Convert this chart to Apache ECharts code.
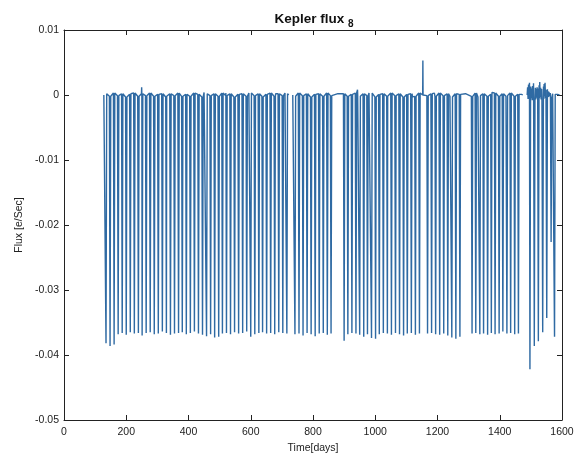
<!DOCTYPE html>
<html>
<head>
<meta charset="utf-8">
<script src="https://cdn.jsdelivr.net/npm/echarts@6/dist/echarts.min.js"></script>
<style>
  html, body { margin: 0; padding: 0; background: #fff; }
  #chart { width: 579px; height: 459px; }
</style>
</head>
<body>
<div id="chart"></div>
<script>
// axis ranges
var xTicks = [0, 200, 400, 600, 800, 1000, 1200, 1400, 1600]
var yTicks = [-0.05, -0.04, -0.03, -0.02, -0.01, 0, 0.01]

// pieces of data that are drawn as one connected line
var segments = [[128, 722], [735, 1474], [1488, 1592]]

// transit dips: time [days], lowest flux, flux level just around the dip
var dipTimes = [
  135, 148, 161, 174, 187, 200, 213, 226, 239, 251, 264, 277, 290, 303, 316, 329,
  342, 355, 368, 380, 393, 406, 419, 432, 445, 458, 471, 484, 497, 509, 522, 535,
  548, 561, 574, 587, 600, 613, 626, 638, 651, 664, 677, 690, 703, 716,
  742, 755, 768, 781, 794, 807, 820, 833, 846, 858,
  900, 912, 925, 938, 950, 963, 975, 988, 1001, 1013, 1026, 1039, 1052, 1065, 1078,
  1091, 1103, 1116, 1129, 1142,
  1168, 1181, 1194, 1207, 1220, 1233, 1246, 1259, 1272,
  1311, 1323, 1336, 1348, 1361, 1373, 1385, 1398, 1410, 1423, 1435, 1448, 1460,
  1497, 1511, 1524, 1538, 1551, 1565, 1576
]
var dipDepths = [
  -0.0382, -0.0386, -0.0384, -0.0368, -0.0366, -0.0369, -0.0365, -0.0367, -0.0366, -0.0370,
  -0.0366, -0.0365, -0.0368, -0.0367, -0.0364, -0.0366, -0.0369, -0.0367, -0.0366, -0.0365,
  -0.0368, -0.0366, -0.0364, -0.0367, -0.0369, -0.0371, -0.0368, -0.0373, -0.0372, -0.0367,
  -0.0366, -0.0368, -0.0365, -0.0367, -0.0366, -0.0364, -0.0372, -0.0368, -0.0366, -0.0365,
  -0.0367, -0.0366, -0.0368, -0.0365, -0.0366, -0.0367,
  -0.0368, -0.0367, -0.0370, -0.0366, -0.0368, -0.0371, -0.0367, -0.0366, -0.0369, -0.0367,
  -0.0378, -0.0368, -0.0366, -0.0367, -0.0369, -0.0372, -0.0368, -0.0374, -0.0375, -0.0368,
  -0.0366, -0.0367, -0.0369, -0.0366, -0.0368, -0.0370, -0.0367, -0.0366, -0.0369, -0.0367,
  -0.0367, -0.0366, -0.0368, -0.0369, -0.0367, -0.0370, -0.0373, -0.0375, -0.0372,
  -0.0367, -0.0366, -0.0368, -0.0367, -0.0369, -0.0366, -0.0368, -0.0367, -0.0364, -0.0367,
  -0.0366, -0.0368, -0.0367,
  -0.0422, -0.0386, -0.0379, -0.0365, -0.0343, -0.0226, -0.0372
]
var dipShoulders = [
  0.0002, -0.0002, 0.0003, -0.0001, 0.0002, -0.0003, 0.0001, 0.0003, -0.0002, 0.0002,
  -0.0001, 0.0003, -0.0002, 0.0001, 0.0002, -0.0003, 0.0002, -0.0001, 0.0003, -0.0002,
  0.0001, -0.0002, 0.0003, 0.0001, -0.0003, 0.0002, -0.0001, 0.0002, -0.0002, 0.0003,
  -0.0001, 0.0002, -0.0003, 0.0001, 0.0002, -0.0002, 0.0003, -0.0001, 0.0002, -0.0002,
  0.0001, 0.0003, -0.0002, 0.0002, -0.0001, 0.0002,
  -0.0002, 0.0003, -0.0001, 0.0002, -0.0003, 0.0001, 0.0002, -0.0002, 0.0003, -0.0001,
  0.0002, -0.0002, 0.0001, 0.0003, -0.0002, 0.0002, -0.0001, 0.0003, -0.0003, 0.0001,
  0.0002, -0.0002, 0.0003, -0.0001, 0.0002, -0.0003, 0.0001, 0.0002, -0.0002, 0.0003,
  -0.0001, 0.0002, -0.0002, 0.0003, -0.0001, 0.0002, -0.0003, 0.0002, 0.0001,
  -0.0002, 0.0003, -0.0001, 0.0002, -0.0002, 0.0001, 0.0003, -0.0002, 0.0002, -0.0001,
  0.0003, -0.0002, 0.0001,
  0.0008, -0.0006, 0.0010, -0.0005, 0.0009, -0.0004, 0.0001
]

// narrow upward spikes
var spikeTimes = [249.5, 943, 1153]
var spikeValues = [0.0012, 0.0008, 0.0053]

// small wiggles on the flat part
var wiggles = [
  [160, 0.0002], [185, -0.0003], [215, 0.0002], [280, 0.0003],
  [330, -0.0002], [372, 0.0003], [410, -0.0002], [450, 0.0004], [470, -0.0003],
  [520, 0.0003], [560, -0.0002], [594, 0.0003], [640, -0.0003], [680, 0.0002],
  [710, 0.0003], [760, 0.0002], [800, -0.0002], [850, 0.0001], [880, 0.0002],
  [980, 0.0003], [1040, -0.0002], [1085, 0.0003], [1120, -0.0003],
  [1190, 0.0003], [1240, -0.0002], [1290, 0.0002], [1330, -0.0003],
  [1375, 0.0004], [1420, -0.0002], [1440, 0.0003], [1470, 0.0001]
]

// noisy stretch at the end
var noisy = [
  [1488, 0.0002], [1489.5, 0.0012], [1491, -0.0006], [1492.5, 0.0016], [1494, -0.0004],
  [1495.5, 0.0019], [1499, -0.0007], [1500, 0.0013], [1501.5, -0.0005], [1503, 0.0010],
  [1504.5, -0.0008], [1506, 0.0014], [1507.5, -0.0003], [1508.5, 0.0018], [1513.5, -0.0006],
  [1514.5, 0.0011], [1515.5, -0.0007], [1517, 0.0009], [1518.5, -0.0004], [1520, 0.0012],
  [1521.5, -0.0006], [1526.5, 0.0015], [1527.5, -0.0005], [1528.5, 0.0020], [1530, -0.0003],
  [1531.5, 0.0011], [1533, -0.0007], [1534.5, 0.0009], [1535.5, -0.0004], [1540.5, 0.0013],
  [1541.5, -0.0006], [1542.5, 0.0017], [1544, -0.0002], [1545.5, 0.0019], [1547, -0.0005],
  [1548.5, 0.0008], [1553.5, -0.0004], [1554.5, 0.0006], [1556, -0.0003], [1558, 0.0005],
  [1560, -0.0002], [1562.5, 0.0003], [1567.5, -0.0001], [1570, 0.0002], [1573.5, 0.0001],
  [1580, -0.0001], [1586, 0.0001], [1592, 0]
]

// put all the points together, one piece per segment, broken by empty values
var allPts = []
dipTimes.forEach(function (t, i) {
  allPts.push([t - 2.2, dipShoulders[i]], [t, dipDepths[i]], [t + 2.2, dipShoulders[i]])
})
spikeTimes.forEach(function (t, i) {
  allPts.push([t - 0.6, 0], [t, spikeValues[i]], [t + 0.6, 0])
})
wiggles.forEach(function (p) { allPts.push(p) })
noisy.forEach(function (p) { allPts.push(p) })

var fluxData = []
segments.forEach(function (s, k) {
  var piece = allPts.filter(function (p) { return p[0] > s[0] && p[0] < s[1] })
  piece.push([s[0], 0], [s[1], 0])
  piece.sort(function (a, b) { return a[0] - b[0] })
  fluxData = fluxData.concat(piece)
  if (k < segments.length - 1) fluxData.push([s[1], null])
})

var axisFont = { fontFamily: 'Liberation Sans', fontSize: 10.5, color: '#222' }
var boxLine = { show: true, onZero: false, lineStyle: { color: '#222', width: 1 } }
var tickIn = { show: true, inside: true, length: 5, lineStyle: { color: '#222' } }

var chart = echarts.init(document.getElementById('chart'))
chart.setOption({
  animation: false,
  backgroundColor: '#fff',
  title: {
    text: 'Kepler flux {sub|8}',
    left: 309,
    top: 4,
    textAlign: 'center',
    textStyle: {
      fontFamily: 'Liberation Sans',
      fontSize: 13.5,
      fontWeight: 'bold',
      color: '#111',
      rich: {
        sub: { fontFamily: 'Liberation Sans', fontSize: 10, fontWeight: 'bold', color: '#111', padding: [10, 0, 0, 0] }
      }
    }
  },
  grid: { left: 64, right: 17, top: 30, bottom: 36 },
  xAxis: [{
    type: 'value',
    min: xTicks[0],
    max: xTicks[xTicks.length - 1],
    interval: 200,
    name: 'Time[days]',
    nameLocation: 'middle',
    nameGap: 23,
    nameTextStyle: axisFont,
    axisLine: boxLine,
    axisTick: tickIn,
    axisLabel: Object.assign({ margin: 7, formatter: function (v) { return String(v) } }, axisFont),
    splitLine: { show: false }
  }, {
    type: 'value',
    position: 'top',
    min: xTicks[0],
    max: xTicks[xTicks.length - 1],
    interval: 200,
    axisLine: boxLine,
    axisTick: tickIn,
    axisLabel: { show: false },
    splitLine: { show: false }
  }],
  yAxis: [{
    type: 'value',
    min: yTicks[0],
    max: yTicks[yTicks.length - 1],
    interval: 0.01,
    name: 'Flux [e/Sec]',
    nameLocation: 'middle',
    nameGap: 35,
    nameTextStyle: axisFont,
    axisLine: boxLine,
    axisTick: tickIn,
    axisLabel: Object.assign({ margin: 5 }, axisFont),
    splitLine: { show: false }
  }, {
    type: 'value',
    position: 'right',
    min: yTicks[0],
    max: yTicks[yTicks.length - 1],
    interval: 0.01,
    axisLine: boxLine,
    axisTick: tickIn,
    axisLabel: { show: false },
    splitLine: { show: false }
  }],
  series: [{
    type: 'line',
    xAxisIndex: 0,
    yAxisIndex: 0,
    data: fluxData,
    showSymbol: false,
    sampling: null,
    connectNulls: false,
    lineStyle: { color: '#2f6aa3', width: 1.4 }
  }]
})
</script>
</body>
</html>
